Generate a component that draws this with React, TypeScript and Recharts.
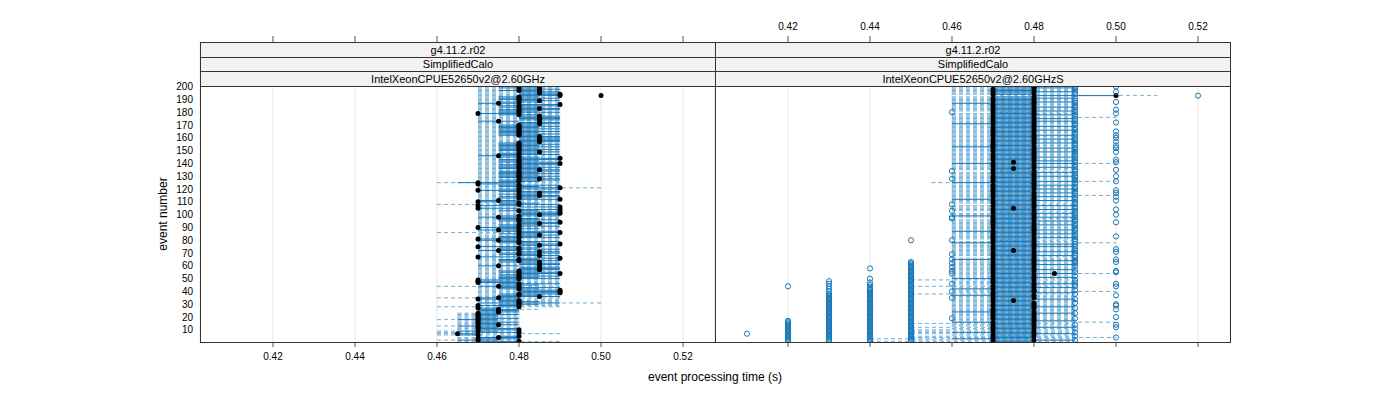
import { ComposedChart, Scatter, ErrorBar, XAxis, YAxis, CartesianGrid } from "recharts";

// event numbers 1..200, times in ms (converted to s below)
const eventNo = Array.from({ length: 200 }, (_, i) => i + 1);

// ---- left panel: IntelXeonCPUE52650v2@2.60GHz ----
const medL = [
  480, 470, 470, 475, 480, 470, 465, 480, 470, 480, 470, 470, 470, 475, 470, 470, 470, 470, 470, 470,
  470, 470, 470, 475, 475, 475, 470, 480, 470, 480, 480, 480, 480, 470, 475, 485, 480, 480, 490, 490,
  490, 480, 480, 475, 480, 480, 470, 470, 470, 480, 480, 480, 480, 490, 480, 480, 485, 485, 485, 475,
  485, 485, 485, 480, 480, 490, 470, 485, 480, 480, 485, 475, 480, 480, 470, 485, 490, 480, 480, 475,
  470, 480, 480, 485, 480, 490, 480, 475, 480, 470, 480, 480, 485, 490, 480, 480, 480, 475, 480, 485,
  490, 490, 480, 490, 470, 490, 470, 480, 480, 470, 475, 490, 480, 480, 485, 480, 485, 480, 470, 480,
  490, 480, 480, 470, 470, 480, 480, 485, 480, 480, 480, 480, 480, 480, 485, 480, 480, 480, 480, 490,
  480, 480, 480, 490, 480, 475, 480, 480, 485, 480, 480, 480, 480, 480, 480, 480, 485, 485, 485, 485,
  485, 480, 480, 480, 480, 480, 480, 480, 480, 480, 485, 485, 475, 485, 485, 485, 485, 480, 470, 480,
  480, 480, 485, 480, 480, 490, 475, 480, 485, 480, 480, 480, 490, 490, 485, 485, 480, 485, 480, 485,
];
const q1L = [
  470, 465, 470, 470, 475, 465, 465, 470, 465, 470, 470, 470, 465, 470, 470, 470, 470, 465, 470, 470,
  470, 470, 470, 470, 470, 470, 470, 475, 470, 475, 470, 475, 475, 470, 470, 475, 475, 475, 480, 480,
  480, 475, 475, 470, 475, 475, 470, 470, 470, 475, 475, 475, 475, 480, 475, 475, 480, 480, 480, 470,
  480, 480, 475, 475, 475, 480, 470, 480, 475, 475, 480, 470, 475, 475, 470, 480, 480, 475, 475, 470,
  470, 475, 475, 480, 475, 480, 475, 470, 475, 470, 475, 475, 480, 480, 475, 475, 475, 470, 475, 480,
  480, 480, 475, 480, 470, 480, 470, 475, 475, 470, 470, 480, 475, 475, 480, 475, 480, 475, 470, 475,
  480, 475, 475, 470, 465, 475, 475, 480, 475, 475, 475, 475, 475, 475, 480, 475, 475, 475, 475, 480,
  475, 475, 475, 480, 475, 470, 475, 475, 480, 475, 475, 475, 475, 475, 475, 475, 480, 480, 480, 480,
  480, 475, 475, 475, 475, 475, 475, 475, 475, 475, 480, 480, 470, 480, 480, 480, 480, 475, 470, 475,
  475, 475, 480, 475, 475, 480, 470, 475, 480, 475, 475, 475, 480, 480, 480, 480, 475, 480, 475, 480,
];
const q3L = [
  480, 475, 480, 480, 480, 470, 470, 480, 475, 480, 480, 475, 475, 480, 475, 480, 475, 475, 480, 475,
  475, 480, 475, 480, 480, 480, 475, 480, 480, 485, 490, 485, 480, 480, 480, 490, 485, 490, 490, 490,
  490, 485, 490, 480, 485, 490, 480, 480, 480, 490, 485, 490, 485, 490, 490, 485, 490, 490, 490, 480,
  490, 490, 485, 490, 485, 490, 480, 490, 485, 490, 490, 480, 490, 485, 480, 490, 490, 485, 490, 480,
  480, 490, 485, 490, 485, 490, 490, 480, 485, 480, 490, 485, 490, 490, 485, 490, 485, 480, 490, 490,
  490, 490, 485, 490, 480, 490, 480, 490, 485, 480, 480, 490, 485, 490, 490, 485, 490, 490, 480, 490,
  490, 485, 490, 480, 480, 485, 490, 490, 485, 490, 485, 490, 485, 490, 490, 485, 490, 485, 490, 490,
  490, 485, 490, 490, 485, 480, 490, 485, 490, 485, 490, 485, 490, 485, 490, 485, 490, 490, 490, 490,
  490, 485, 490, 485, 490, 485, 490, 485, 490, 485, 490, 490, 480, 490, 490, 490, 490, 485, 480, 490,
  485, 490, 490, 485, 490, 490, 480, 485, 490, 485, 490, 485, 490, 490, 490, 490, 485, 490, 485, 490,
];
const loL = [
  465, 460, 465, 465, 470, 460, 460, 460, 460, 465, 465, 465, 460, 465, 465, 465, 465, 460, 465, 465,
  465, 465, 465, 470, 470, 470, 470, 460, 470, 470, 470, 470, 470, 470, 460, 470, 470, 470, 470, 470,
  470, 470, 470, 460, 470, 470, 470, 470, 470, 470, 470, 470, 470, 470, 470, 470, 470, 470, 470, 470,
  470, 470, 470, 470, 470, 470, 470, 470, 470, 470, 470, 470, 470, 470, 470, 470, 470, 470, 470, 470,
  470, 470, 470, 470, 470, 460, 470, 470, 470, 470, 470, 470, 470, 470, 470, 470, 470, 470, 470, 470,
  470, 470, 470, 470, 470, 470, 470, 460, 470, 470, 470, 470, 470, 470, 470, 470, 470, 470, 470, 470,
  470, 470, 470, 470, 460, 470, 470, 470, 470, 470, 470, 470, 470, 470, 470, 470, 470, 470, 470, 470,
  470, 470, 470, 470, 470, 470, 470, 470, 470, 470, 470, 470, 470, 470, 470, 470, 470, 470, 470, 470,
  470, 470, 470, 470, 470, 470, 470, 470, 470, 470, 470, 470, 470, 470, 470, 470, 470, 470, 470, 470,
  470, 470, 470, 470, 470, 470, 470, 470, 470, 470, 470, 470, 470, 470, 470, 470, 470, 470, 470, 470,
];
const hiL = [
  490, 480, 480, 480, 480, 480, 490, 480, 480, 480, 480, 480, 480, 480, 480, 480, 480, 480, 480, 480,
  480, 480, 480, 480, 480, 485, 480, 490, 490, 490, 500, 490, 490, 490, 490, 490, 490, 490, 490, 490,
  490, 490, 490, 490, 490, 490, 490, 490, 490, 490, 490, 490, 490, 490, 490, 490, 490, 490, 490, 490,
  490, 490, 490, 490, 490, 490, 490, 490, 490, 490, 490, 490, 490, 490, 490, 490, 490, 490, 490, 490,
  490, 490, 490, 490, 490, 490, 490, 490, 490, 490, 490, 490, 490, 490, 490, 490, 490, 490, 490, 490,
  490, 490, 490, 490, 490, 490, 490, 490, 490, 490, 490, 490, 490, 490, 490, 490, 490, 490, 490, 490,
  500, 490, 490, 490, 490, 490, 490, 490, 490, 490, 490, 490, 490, 490, 490, 490, 490, 490, 490, 490,
  490, 490, 490, 490, 490, 490, 490, 490, 490, 490, 490, 490, 490, 490, 490, 490, 490, 490, 490, 490,
  490, 490, 490, 490, 490, 490, 490, 490, 490, 490, 490, 490, 490, 490, 490, 490, 490, 490, 490, 490,
  490, 490, 490, 490, 490, 490, 490, 490, 490, 490, 490, 490, 490, 490, 490, 490, 490, 490, 490, 490,
];
const outL500 = [193];

// ---- right panel: IntelXeonCPUE52650v2@2.60GHzS ----
const medR = [
  470, 480, 470, 470, 480, 470, 480, 480, 470, 480, 470, 470, 480, 470, 480, 470, 480, 480, 470, 480,
  470, 480, 470, 480, 470, 470, 480, 480, 470, 480, 480, 470, 475, 470, 480, 470, 480, 470, 470, 480,
  480, 470, 480, 470, 480, 480, 470, 470, 480, 470, 480, 470, 480, 485, 470, 480, 470, 480, 470, 480,
  470, 480, 470, 480, 480, 470, 480, 470, 480, 470, 480, 475, 470, 480, 470, 480, 480, 470, 480, 470,
  480, 470, 470, 480, 470, 480, 470, 480, 480, 470, 480, 470, 480, 470, 470, 480, 470, 480, 470, 480,
  480, 470, 480, 470, 475, 480, 470, 480, 470, 480, 470, 480, 480, 470, 480, 470, 480, 470, 470, 480,
  470, 480, 470, 480, 480, 470, 480, 470, 480, 470, 480, 480, 470, 480, 470, 475, 480, 470, 480, 470,
  475, 480, 470, 480, 470, 480, 470, 480, 480, 470, 480, 470, 480, 470, 470, 480, 470, 480, 470, 480,
  480, 470, 480, 470, 480, 470, 480, 470, 480, 480, 470, 480, 470, 480, 470, 480, 470, 480, 480, 470,
  480, 470, 480, 470, 480, 470, 480, 480, 470, 480, 470, 480, 500, 470, 480, 470, 480, 470, 480, 480,
];
const q1R = [
  470, 470, 460, 470, 470, 470, 470, 460, 470, 470, 470, 470, 470, 470, 470, 460, 470, 470, 470, 470,
  470, 470, 470, 460, 470, 470, 470, 470, 470, 470, 470, 470, 470, 470, 470, 470, 460, 470, 470, 470,
  470, 460, 470, 470, 470, 470, 470, 470, 470, 460, 470, 470, 470, 470, 470, 470, 470, 470, 470, 470,
  470, 470, 470, 470, 460, 470, 470, 470, 470, 470, 470, 470, 470, 470, 470, 470, 470, 460, 470, 470,
  470, 470, 470, 470, 470, 470, 460, 470, 470, 470, 470, 470, 470, 470, 470, 470, 470, 470, 460, 470,
  470, 470, 470, 470, 470, 470, 470, 470, 470, 470, 470, 460, 470, 470, 470, 470, 470, 470, 470, 470,
  470, 470, 470, 470, 460, 470, 470, 470, 470, 470, 470, 470, 470, 470, 470, 470, 470, 470, 470, 460,
  470, 470, 470, 470, 470, 470, 470, 470, 470, 470, 470, 470, 460, 470, 470, 470, 470, 470, 470, 470,
  470, 470, 470, 470, 470, 470, 470, 470, 470, 470, 460, 470, 470, 470, 470, 470, 470, 470, 470, 470,
  470, 470, 470, 470, 470, 470, 460, 470, 470, 470, 470, 470, 480, 470, 470, 470, 470, 470, 470, 470,
];
const q3R = [
  480, 490, 480, 480, 480, 480, 490, 480, 480, 480, 480, 490, 480, 480, 480, 480, 490, 480, 480, 480,
  480, 480, 490, 480, 480, 480, 480, 490, 480, 480, 480, 480, 480, 490, 480, 480, 480, 480, 490, 480,
  480, 480, 490, 480, 480, 490, 480, 480, 480, 480, 490, 480, 480, 490, 480, 480, 490, 480, 480, 480,
  490, 480, 480, 490, 480, 480, 480, 490, 480, 480, 490, 480, 480, 480, 490, 480, 490, 480, 480, 480,
  480, 490, 480, 480, 490, 480, 480, 490, 480, 480, 480, 490, 480, 480, 490, 480, 480, 490, 480, 480,
  490, 480, 480, 490, 480, 480, 490, 480, 480, 480, 490, 480, 480, 490, 480, 480, 490, 480, 480, 490,
  480, 480, 490, 480, 480, 490, 480, 480, 480, 490, 480, 480, 490, 480, 480, 480, 490, 480, 480, 490,
  480, 490, 480, 480, 490, 480, 480, 480, 490, 480, 480, 490, 480, 480, 480, 490, 480, 480, 490, 480,
  480, 490, 480, 480, 480, 490, 480, 480, 490, 480, 480, 480, 490, 480, 490, 480, 480, 490, 480, 480,
  490, 480, 480, 490, 480, 480, 480, 490, 480, 480, 490, 480, 500, 480, 480, 490, 480, 480, 490, 480,
];
const loR = [
  440, 450, 440, 450, 450, 460, 450, 450, 450, 450, 460, 450, 460, 460, 450, 460, 460, 460, 460, 460,
  460, 460, 460, 460, 460, 460, 460, 460, 460, 460, 460, 460, 460, 460, 460, 460, 460, 450, 460, 460,
  460, 460, 460, 450, 460, 460, 460, 460, 450, 460, 460, 460, 460, 460, 460, 460, 460, 460, 460, 460,
  460, 460, 460, 460, 460, 460, 470, 460, 460, 460, 460, 460, 460, 460, 460, 460, 460, 460, 460, 470,
  460, 460, 460, 460, 460, 460, 460, 460, 460, 460, 460, 460, 460, 460, 460, 460, 470, 460, 460, 460,
  460, 470, 460, 460, 460, 460, 460, 470, 460, 460, 460, 460, 460, 460, 460, 460, 460, 460, 460, 460,
  460, 460, 460, 460, 455, 460, 460, 460, 460, 460, 460, 460, 460, 470, 460, 460, 460, 460, 460, 460,
  460, 460, 460, 460, 460, 460, 460, 460, 460, 460, 460, 460, 460, 460, 460, 460, 460, 460, 460, 460,
  460, 460, 460, 460, 460, 460, 460, 460, 460, 460, 460, 460, 460, 460, 460, 460, 460, 460, 460, 470,
  460, 460, 460, 460, 460, 460, 460, 460, 460, 460, 460, 460, 470, 460, 460, 460, 460, 460, 460, 460,
];
const hiR = [
  490, 490, 490, 500, 490, 490, 490, 490, 490, 490, 490, 490, 490, 490, 490, 500, 490, 490, 490, 490,
  490, 490, 490, 490, 490, 490, 490, 490, 490, 490, 490, 490, 490, 490, 490, 490, 490, 490, 490, 500,
  490, 490, 490, 490, 490, 490, 490, 490, 490, 490, 490, 490, 490, 500, 490, 490, 490, 490, 490, 490,
  490, 490, 490, 490, 490, 490, 490, 490, 490, 490, 490, 490, 490, 490, 490, 490, 490, 500, 490, 490,
  490, 490, 490, 490, 490, 490, 490, 490, 490, 490, 490, 490, 490, 490, 490, 490, 490, 490, 490, 490,
  490, 490, 490, 490, 490, 490, 490, 490, 490, 490, 490, 490, 490, 490, 500, 490, 490, 490, 490, 490,
  490, 490, 490, 490, 490, 500, 490, 490, 490, 490, 490, 490, 490, 490, 490, 490, 490, 490, 490, 500,
  490, 490, 490, 490, 490, 490, 490, 490, 490, 490, 490, 490, 490, 490, 490, 490, 490, 490, 490, 490,
  490, 490, 490, 490, 490, 490, 490, 490, 490, 490, 490, 490, 490, 490, 490, 500, 490, 490, 490, 490,
  490, 490, 490, 490, 490, 490, 490, 490, 490, 490, 490, 490, 510, 490, 490, 490, 490, 490, 490, 490,
];
// outliers (event numbers) per time value
const outR410 = [7];
const outR420 = [1, 2, 3, 4, 5, 6, 7, 8, 9, 10, 11, 12, 13, 14, 15, 16, 17, 44];
const outR430 = [
  1, 2, 3, 4, 5, 6, 7, 8, 9, 10, 11, 12, 13, 14, 15, 16, 17, 18, 19, 20, 21, 22, 23, 24, 25, 26, 27, 28,
  29, 30, 31, 32, 33, 34, 35, 36, 37, 38, 40, 42, 44, 46, 48,
];
const outR440 = [
  1, 2, 3, 4, 5, 6, 7, 8, 9, 10, 11, 12, 13, 14, 15, 16, 17, 18, 19, 20, 21, 22, 23, 24, 25, 26, 27, 28,
  29, 30, 31, 32, 33, 34, 35, 36, 37, 38, 39, 40, 41, 42, 43, 45, 47, 50, 58,
];
const outR450 = [
  1, 2, 3, 4, 5, 6, 7, 8, 9, 10, 11, 12, 13, 14, 15, 16, 17, 18, 19, 20, 21, 22, 23, 24, 25, 26, 27, 28,
  29, 30, 31, 32, 33, 34, 35, 36, 37, 38, 39, 40, 41, 42, 43, 44, 45, 46, 47, 48, 49, 50, 51, 52, 53, 54,
  55, 56, 57, 58, 59, 60, 61, 62, 63, 80,
];
const outR460 = [180, 134, 128, 108, 103, 98, 97, 80, 69, 65, 62, 59, 56, 54, 46, 40, 35, 19];
const outR490 = [
  2, 5, 8, 11, 14, 19, 23, 27, 31, 34, 38, 41, 44, 45, 47, 49, 52, 55, 57, 60, 62, 63, 64, 66, 68, 70, 72,
  73, 75, 77, 79, 81, 83, 84, 86, 88, 89, 91, 93, 95, 96, 98, 100, 101, 103, 105, 106, 108, 110, 112, 113,
  115, 117, 118, 120, 122, 124, 125, 127, 129, 130, 132, 134, 135, 137, 139, 141, 142, 144, 146, 147, 149,
  151, 152, 154, 156, 158, 159, 161, 163, 164, 166, 168, 170, 171, 173, 175, 177, 178, 180, 182, 184, 185,
  187, 189, 191, 194, 196, 198, 199, 200,
];
const outR500 = [
  200, 196, 188, 182, 179, 172, 165, 162, 160, 157, 154, 152, 149, 143, 141, 135, 130, 126, 119, 117, 114,
  111, 104, 100, 94, 83, 73, 71, 65, 63, 56, 55, 46, 44, 37, 30, 29, 26, 20, 14, 12, 4,
];
const outR520 = [193];

const xTicks = [0.42, 0.44, 0.46, 0.48, 0.5, 0.52];
const yTicks = [10, 20, 30, 40, 50, 60, 70, 80, 90, 100, 110, 120, 130, 140, 150, 160, 170, 180, 190, 200];
const stripL = ["g4.11.2.r02", "SimplifiedCalo", "IntelXeonCPUE52650v2@2.60GHz"];
const stripR = ["g4.11.2.r02", "SimplifiedCalo", "IntelXeonCPUE52650v2@2.60GHzS"];

const BLUE = "#1a78b8";
const s = (v: number) => v / 1000;

const span = (a: number[], b: number[]) =>
  eventNo.map((e, i) => ({ x: s(a[i]), y: e, err: [0, s(b[i] - a[i])] }));
const pts = (v: number[]) => eventNo.map((e, i) => ({ x: s(v[i]), y: e }));
const outs = (val: number, evs: number[]) => evs.map((e) => ({ x: s(val), y: e }));

const dot = (p: any) => <circle cx={p.cx} cy={p.cy} r={2.5} fill="#000" />;
const ring = (p: any) => <circle cx={p.cx} cy={p.cy} r={2.6} fill="none" stroke={BLUE} strokeWidth={1} />;
const none = () => <g />;

const tickFont = { fontSize: 10, fill: "#000" };

function Panel({ left, yAxis, topLabels, whisk, box, med, out, outShape }: any) {
  return (
    <div style={{ position: "absolute", left: 0, top: 0 }}>
      <ComposedChart
        width={1400}
        height={400}
        margin={{ top: 12, bottom: 28, left: yAxis ? left - 40 : left, right: 1400 - left - 515 }}
      >
        <CartesianGrid horizontal={false} stroke="#e8e8e8" />
        <XAxis
          type="number"
          dataKey="x"
          domain={[0.4022, 0.5278]}
          allowDataOverflow
          ticks={xTicks}
          interval={0}
          height={30}
          axisLine={false}
          tickSize={5}
          tickMargin={6}
          tickLine={{ stroke: "#555" }}
          tick={topLabels ? none : tickFont}
          tickFormatter={(v: number) => v.toFixed(2)}
        />
        <XAxis
          xAxisId="top"
          orientation="top"
          type="number"
          dataKey="x"
          domain={[0.4022, 0.5278]}
          allowDataOverflow
          ticks={xTicks}
          interval={0}
          height={30}
          axisLine={false}
          tickSize={6}
          tickMargin={6}
          tickLine={{ stroke: "#555" }}
          tick={topLabels ? tickFont : none}
          tickFormatter={(v: number) => v.toFixed(2)}
        />
        <YAxis
          type="number"
          dataKey="y"
          domain={[0.5, 234.875]}
          allowDataOverflow
          ticks={yTicks}
          interval={0}
          width={40}
          hide={!yAxis}
          axisLine={false}
          tickLine={false}
          tickSize={5}
          tickMargin={2}
          tick={tickFont}
        />
        <Scatter data={whisk} shape={none} isAnimationActive={false}>
          <ErrorBar
            dataKey="err"
            direction="x"
            width={0}
            stroke="#4d9bd0"
            strokeOpacity={0.8}
            strokeWidth={1}
            strokeDasharray="4 3"
            isAnimationActive={false}
          />
        </Scatter>
        <Scatter data={box} shape={none} isAnimationActive={false}>
          <ErrorBar dataKey="err" direction="x" width={0} stroke={BLUE} strokeWidth={1} isAnimationActive={false} />
        </Scatter>
        <Scatter data={med} shape={dot} isAnimationActive={false} />
        <Scatter data={out} shape={outShape} isAnimationActive={false} />
      </ComposedChart>
    </div>
  );
}

function Frame({ left, strips }: { left: number; strips: string[] }) {
  const tops = [0, 15, 29];
  const hs = [14, 13, 14];
  return (
    <div
      style={{
        position: "absolute",
        left,
        top: 42,
        width: 516,
        height: 301,
        border: "1px solid #333",
        boxSizing: "border-box",
      }}
    >
      {strips.map((t, i) => (
        <div
          key={i}
          style={{
            position: "absolute",
            left: 0,
            right: 0,
            top: tops[i],
            height: hs[i],
            lineHeight: hs[i] + "px",
            background: "#f2f2f2",
            borderBottom: "1px solid #333",
            textAlign: "center",
            fontSize: 11,
            color: "#000",
          }}
        >
          {t}
        </div>
      ))}
    </div>
  );
}

export default function App() {
  const outR = [
    ...outs(410, outR410),
    ...outs(420, outR420),
    ...outs(430, outR430),
    ...outs(440, outR440),
    ...outs(450, outR450),
    ...outs(460, outR460),
    ...outs(490, outR490),
    ...outs(500, outR500),
    ...outs(520, outR520),
  ];
  return (
    <div
      style={{
        position: "absolute",
        left: 0,
        top: 0,
        width: 1400,
        height: 400,
        background: "#fff",
        fontFamily: "'Liberation Sans', Arial, sans-serif",
      }}
    >
      <Panel
        left={200}
        yAxis
        topLabels={false}
        whisk={span(loL, hiL)}
        box={span(q1L, q3L)}
        med={pts(medL)}
        out={outs(500, outL500)}
        outShape={dot}
      />
      <Panel
        left={715}
        yAxis={false}
        topLabels
        whisk={span(loR, hiR)}
        box={span(q1R, q3R)}
        med={pts(medR)}
        out={outR}
        outShape={ring}
      />
      <Frame left={200} strips={stripL} />
      <Frame left={715} strips={stripR} />
      <div style={{ position: "absolute", left: 0, width: 1430, top: 370, lineHeight: "14px", textAlign: "center", fontSize: 12 }}>
        event processing time (s)
      </div>
      <div
        style={{
          position: "absolute",
          left: 163,
          top: 214,
          fontSize: 12,
          whiteSpace: "nowrap",
          transform: "translate(-50%, -50%) rotate(-90deg)",
        }}
      >
        event number
      </div>
    </div>
  );
}
